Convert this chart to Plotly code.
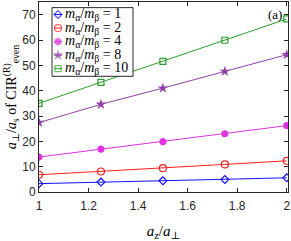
import plotly.graph_objects as go

x_vals = [1, 1.25, 1.5, 1.75, 2]
ratio_labels = ["1", "2", "4", "8", "10"]
y_r1 = [3.3, 3.9, 4.4, 4.9, 5.6]
y_r2 = [6.8, 8.1, 9.4, 10.9, 12.3]
y_r4 = [13.8, 16.9, 19.9, 23.0, 26.2]
y_r8 = [27.4, 34.6, 41.0, 47.6, 54.2]
y_r10 = [35.0, 43.3, 51.6, 59.9, 68.3]
y_ticks = [0, 10, 20, 30, 40, 50, 60, 70]
x_ticks = [1, 1.2, 1.4, 1.6, 1.8, 2]
x_tick_text = ["1", "1.2", "1.4", "1.6", "1.8", "2"]

series = [
    (y_r1, "#1010FF", "diamond-open", 6, 1.2),
    (y_r2, "#FF2020", "circle-open", 7, 1.2),
    (y_r4, "#E030E0", "asterisk-open", 6, 2.2),
    (y_r8, "#9340A8", "star", 8, 0),
    (y_r10, "#28A028", "square-open", 6, 1.2),
]

# plot area in pixels (for the hand-drawn legend overlay axis)
W, H = 291, 241
L, R, T, B = 39, 3, 1, 38
PX0, PX1 = L, W - R
PY0, PY1 = T, H - B

fig = go.Figure()
for (ys, col, sym, sz, lw), lab in zip(series, ratio_labels):
    fig.add_trace(go.Scatter(
        x=x_vals, y=ys, mode="lines+markers", showlegend=False,
        line=dict(color=col, width=1),
        marker=dict(symbol=sym, size=sz, color=col, line=dict(color=col, width=lw)),
    ))

# legend overlay, in pixel units on a hidden overlay axis
leg_left, leg_right, leg_top, leg_bottom = 52, 133, 7, 80
row_h = 14.4
first_row = 14.3
annotations = []
fig.add_trace(go.Scatter(
    x=[leg_left, leg_right, leg_right, leg_left, leg_left],
    y=[leg_top, leg_top, leg_bottom, leg_bottom, leg_top],
    xaxis="x2", yaxis="y2", mode="lines", fill="toself", fillcolor="white",
    line=dict(color="#262626", width=1), showlegend=False, hoverinfo="skip"))
for i, ((ys, col, sym, sz, lw), lab) in enumerate(zip(series, ratio_labels)):
    yc = first_row + i * row_h
    fig.add_trace(go.Scatter(
        x=[54, 58, 62], y=[yc, yc, yc], xaxis="x2", yaxis="y2", showlegend=False,
        mode="lines+markers", line=dict(color=col, width=1),
        marker=dict(symbol=sym, size=[0, sz, 0], color=col, line=dict(color=col, width=lw)),
        hoverinfo="skip",
    ))
    annotations.append(dict(
        text="<i>m</i><sub>α</sub>/<i>m</i><sub>β</sub> = " + lab,
        x=63, y=yc, xref="x2", yref="y2", xanchor="left", yanchor="middle",
        showarrow=False,
        font=dict(family="Liberation Serif, DejaVu Serif", size=14, color="black")))

annotations.append(dict(text="(a)", x=0.985, y=0.985, xref="paper", yref="paper",
                        xanchor="right", yanchor="top", showarrow=False,
                        font=dict(family="Liberation Serif, DejaVu Serif", size=13, color="black")))

axis_common = dict(showline=True, linecolor="#262626", linewidth=1, mirror="ticks",
                   ticks="inside", ticklen=4, tickcolor="#262626", showgrid=False,
                   zeroline=False, tickfont=dict(family="Liberation Sans, Arial", size=12, color="#262626"))

fig.update_layout(
    width=W, height=H,
    margin=dict(l=L, r=R, t=T, b=B),
    paper_bgcolor="white", plot_bgcolor="white",
    showlegend=False,
    xaxis=dict(range=[1, 2.005], tickvals=x_ticks, ticktext=x_tick_text,
               ticklabelstandoff=3,
               title=dict(text="<i>a</i><sub>z</sub>/<i>a</i><sub>⊥</sub>",
                          font=dict(family="Liberation Serif, DejaVu Serif", size=15, color="black"),
                          standoff=16),
               **axis_common),
    yaxis=dict(range=[0, 75], tickvals=y_ticks,
               title=dict(text="<i>a</i><sub>⊥</sub>/<i>a</i><sub>s</sub> of CIR<sup>(R)</sup><sub>even</sub>",
                          font=dict(family="Liberation Serif, DejaVu Serif", size=14, color="black"),
                          standoff=2),
               **axis_common),
    xaxis2=dict(overlaying="x", range=[PX0, PX1], visible=False, fixedrange=True),
    yaxis2=dict(overlaying="y", range=[PY1, PY0], visible=False, fixedrange=True),
    annotations=annotations,
)

fig.write_html("out.html", config={"displayModeBar": False},
               post_script="document.body.style.margin='0';document.body.style.overflow='hidden';")
